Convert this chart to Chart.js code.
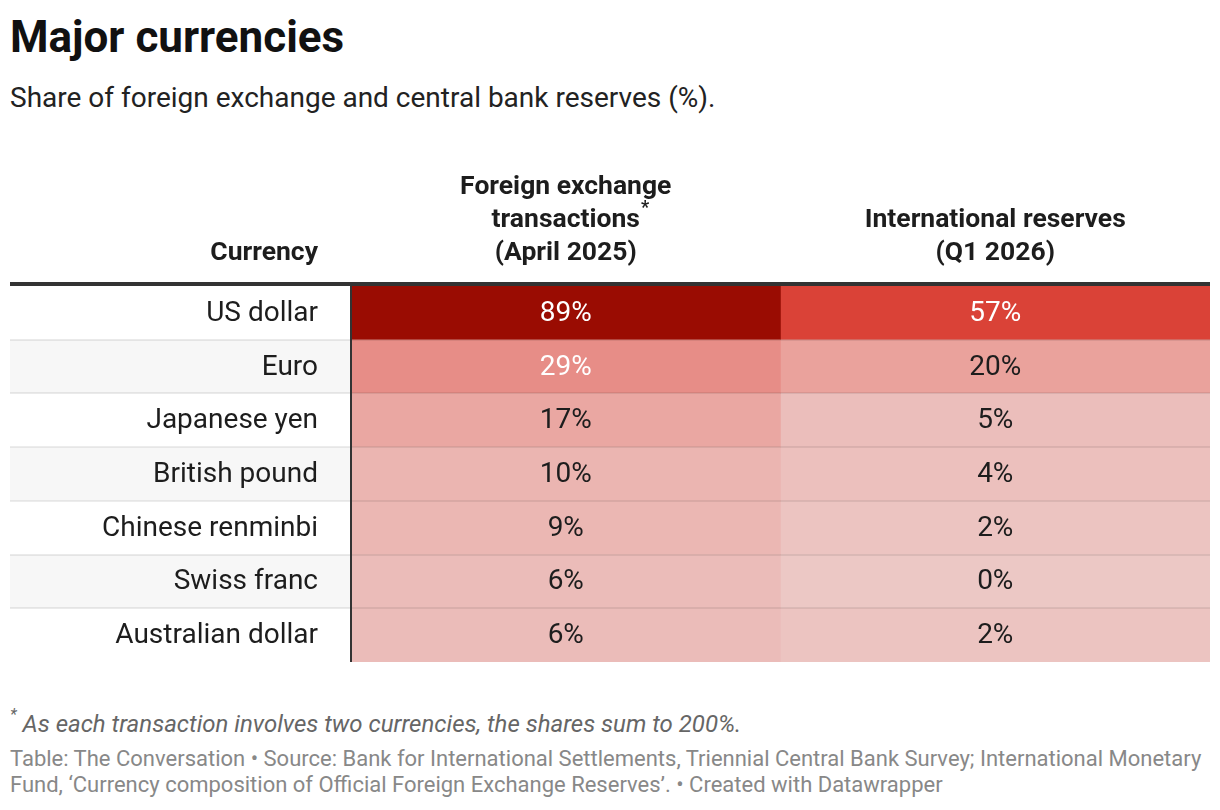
<!DOCTYPE html>
<html>
<head>
<meta charset="utf-8">
<title>Major currencies</title>
<script src="https://cdn.jsdelivr.net/npm/chart.js@4.4.1/dist/chart.umd.min.js"></script>
<style>
  body { margin: 0; background: #fff; font-family: Roboto, "Noto Sans", sans-serif; color: #1d1d1d; }
  #wrap { position: relative; width: 1220px; height: 810px; overflow: hidden; }
  h1 { position: absolute; left: 10px; top: 15px; margin: 0; font-size: 44px; line-height: 1; font-weight: 700; color: #111; }
  .sub { position: absolute; left: 10px; top: 84px; font-size: 28px; line-height: 1; color: #222; white-space: nowrap; }
  #box { position: absolute; left: 10px; top: 160px; width: 1200px; height: 502px; }
  .note { position: absolute; left: 10px; top: 710px; font-size: 24px; line-height: 1; font-style: italic; color: #666; white-space: nowrap; }
  .note sup { font-size: 16px; position: relative; top: -3px; }
  .src { position: absolute; left: 10px; top: 746px; font-size: 22px; line-height: 26px; color: #888; white-space: nowrap; }
</style>
</head>
<body>
<div id="wrap">
  <h1>Major currencies</h1>
  <div class="sub">Share of foreign exchange and central bank reserves (%).</div>
  <div id="box"><canvas id="table" width="1200" height="502"></canvas></div>
  <div class="note"><sup>*</sup> As each transaction involves two currencies, the shares sum to 200%.</div>
  <div class="src">Table: The Conversation • Source: Bank for International Settlements, Triennial Central Bank Survey; International Monetary<br>Fund, ‘Currency composition of Official Foreign Exchange Reserves’. • Created with Datawrapper</div>
</div>
<script>
// Table data
const currencies = ['US dollar', 'Euro', 'Japanese yen', 'British pound', 'Chinese renminbi', 'Swiss franc', 'Australian dollar'];
const fxTransactions = [89, 29, 17, 10, 9, 6, 6];   // % share, April 2025
const intlReserves = [57, 20, 5, 4, 2, 0, 2];       // % share, Q1 2026
const labelHeader = 'Currency';
const columnHeaders = [
    ['Foreign exchange', 'transactions', '(April 2025)'],
    ['International reserves', '(Q1 2026)']
];

// Colour scale for the cells (value -> rgb)
const colorStops = [
    [0, [236, 200, 197]],
    [25, [233, 152, 146]],
    [60, [217, 58, 47]],
    [90, [152, 10, 0]]
];

function shade(v) {
    for (let i = 1; i < colorStops.length; i++) {
        const [v0, c0] = colorStops[i - 1];
        const [v1, c1] = colorStops[i];
        if (v <= v1 || i === colorStops.length - 1) {
            const t = Math.max(0, Math.min(1, (v - v0) / (v1 - v0)));
            const c = c0.map((x, k) => Math.round(x + (c1[k] - x) * t));
            return 'rgb(' + c.join(',') + ')';
        }
    }
}

const FONT = 'Roboto, "Noto Sans", sans-serif';
const LABEL_GAP = 33;   // space between row labels and the first column

// Draws stripes, labels, separators, header and the cell values
const tablePlugin = {
    id: 'tableDecor',
    beforeDraw(chart) {
        const { ctx, chartArea, scales: { y } } = chart;
        const half = (y.getPixelForValue(1) - y.getPixelForValue(0)) / 2;
        ctx.save();
        ctx.fillStyle = '#f7f7f7';
        currencies.forEach((c, i) => {
            if (i % 2 === 1) {
                const cy = y.getPixelForValue(i);
                ctx.fillRect(0, cy - half, chartArea.left, half * 2);
            }
        });
        ctx.restore();
    },
    afterDatasetsDraw(chart) {
        const { ctx, chartArea, scales: { x, y } } = chart;
        const half = (y.getPixelForValue(1) - y.getPixelForValue(0)) / 2;
        ctx.save();

        // row separators
        ctx.fillStyle = 'rgba(0,0,0,0.075)';
        for (let i = 0; i < currencies.length - 1; i++) {
            const by = y.getPixelForValue(i) + half;
            ctx.fillRect(0, Math.round(by) - 1, chart.width, 2);
        }

        // row labels
        ctx.font = '28px ' + FONT;
        ctx.textBaseline = 'middle';
        ctx.textAlign = 'right';
        ctx.fillStyle = '#1d1d1d';
        currencies.forEach((c, i) => {
            ctx.fillText(c, chartArea.left - LABEL_GAP, y.getPixelForValue(i) + 1);
        });

        // cell values
        ctx.textAlign = 'center';
        [fxTransactions, intlReserves].forEach((vals, col) => {
            const cx = x.getPixelForValue(col + 0.5);
            vals.forEach((v, i) => {
                ctx.fillStyle = v >= 25 ? '#ffffff' : '#1d1d1d';
                ctx.fillText(v + '%', cx, y.getPixelForValue(i) + 1);
            });
        });

        // header rule and label column rule
        ctx.fillStyle = '#333333';
        ctx.fillRect(0, chartArea.top - 4, chart.width, 4);
        ctx.fillRect(chartArea.left - 1, chartArea.top, 2, chartArea.bottom - chartArea.top);

        // header text
        const baseY = chartArea.top - 26;
        const lh = 33;
        ctx.font = 'bold 26.5px ' + FONT;
        ctx.fillStyle = '#1d1d1d';
        ctx.textBaseline = 'alphabetic';
        ctx.textAlign = 'right';
        ctx.fillText(labelHeader, chartArea.left - LABEL_GAP, baseY);
        ctx.textAlign = 'center';
        columnHeaders.forEach((lines, col) => {
            const cx = x.getPixelForValue(col + 0.5);
            lines.forEach((line, j) => {
                const ly = baseY - (lines.length - 1 - j) * lh;
                ctx.fillText(line, cx, ly);
                if (col === 0 && line === 'transactions') {
                    const w = ctx.measureText(line).width;
                    ctx.save();
                    ctx.font = 'bold 18px ' + FONT;
                    ctx.textAlign = 'left';
                    ctx.fillText('*', cx + w / 2 + 1, ly - 14);
                    ctx.restore();
                }
            });
        });
        ctx.restore();
    }
};

const ctx = document.getElementById('table').getContext('2d');
const tableChart = new Chart(ctx, {
    type: 'bar',
    data: {
        labels: currencies,
        datasets: [
            {
                label: 'Foreign exchange transactions',
                data: fxTransactions.map(() => [0, 1]),
                backgroundColor: fxTransactions.map(shade)
            },
            {
                label: 'International reserves',
                data: intlReserves.map(() => [1, 2]),
                backgroundColor: intlReserves.map(shade)
            }
        ]
    },
    options: {
        indexAxis: 'y',
        responsive: false,
        animation: false,
        devicePixelRatio: 1,
        layout: { padding: { top: 126, left: 341, right: 0, bottom: 0 } },
        datasets: {
            bar: {
                grouped: false,
                barPercentage: 1,
                categoryPercentage: 1,
                borderWidth: 0,
                borderSkipped: false
            }
        },
        plugins: {
            legend: { display: false },
            tooltip: { enabled: false },
            title: { display: false }
        },
        scales: {
            x: { type: 'linear', min: 0, max: 2, display: false },
            y: { type: 'category', display: false }
        }
    },
    plugins: [tablePlugin]
});
</script>
</body>
</html>
